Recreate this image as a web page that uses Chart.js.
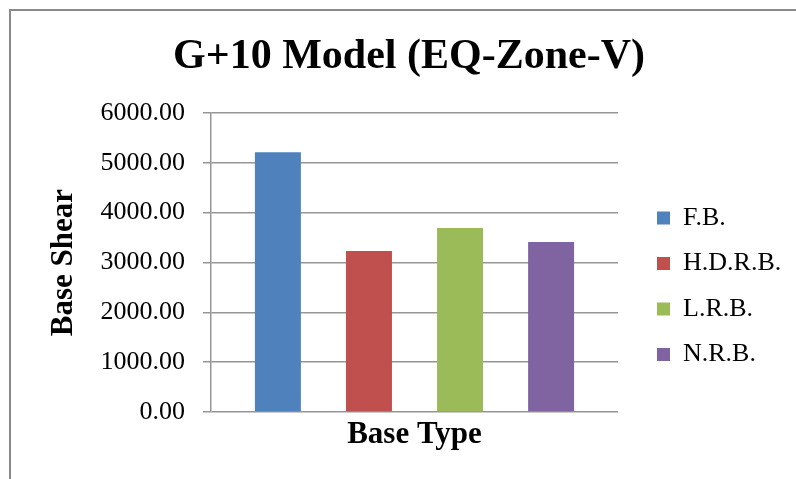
<!DOCTYPE html>
<html>
<head>
<meta charset="utf-8">
<script src="https://cdn.jsdelivr.net/npm/chart.js@4/dist/chart.umd.min.js"></script>
<style>
  html, body { margin: 0; padding: 0; background: #fff; }
  #wrap { width: 796px; height: 479px; position: relative; }
</style>
</head>
<body>
<div id="wrap"><canvas id="c" width="796" height="479"></canvas></div>
<script>
// ---- data ----
const categories = [''];
const seriesNames = ['F.B.', 'H.D.R.B.', 'L.R.B.', 'N.R.B.'];
const fbValues = [5214];
const hdrbValues = [3229];
const lrbValues = [3690];
const nrbValues = [3409];
const yTickMin = 0;
const yTickMax = 6000;
const yTickStep = 1000;
const chartTitle = 'G+10 Model (EQ-Zone-V)';
const xTitle = 'Base Type';
const yTitle = 'Base Shear';

const seriesColors = ['#4F81BD', '#C0504D', '#9BBB59', '#8064A2'];
const seriesValues = [fbValues, hdrbValues, lrbValues, nrbValues];

Chart.defaults.font.family = '"Liberation Serif", "Times New Roman", serif';
Chart.defaults.color = '#000';

const gridColor = '#969696';

const frame = {
  id: 'frame',
  beforeDraw(chart) {
    const ctx = chart.ctx;
    ctx.save();
    ctx.fillStyle = '#fff';
    ctx.fillRect(0, 0, chart.width, chart.height);
    ctx.strokeStyle = '#8a8a8a';
    ctx.lineWidth = 2;
    ctx.beginPath();
    ctx.moveTo(10, chart.height);
    ctx.lineTo(10, 10);
    ctx.lineTo(chart.width, 10);
    ctx.stroke();
    ctx.restore();
  }
};

const placeBlocks = {
  id: 'placeBlocks',
  afterLayout(chart) {
    const lg = chart.legend;
    if (lg) {
      lg.left = 637.5; lg.right = chart.width;
      lg.width = lg.right - lg.left;
      lg.top = 113; lg.bottom = 459.5;
      lg.height = lg.bottom - lg.top;
    }
    const tb = chart.titleBlock;
    if (tb) {
      const dx = 409 - (tb.left + tb.right) / 2;
      tb.left += dx; tb.right += dx;
    }
  }
};

new Chart(document.getElementById('c'), {
  type: 'bar',
  data: {
    labels: categories,
    datasets: seriesNames.map((n, i) => ({
      label: n,
      data: seriesValues[i],
      backgroundColor: seriesColors[i],
      borderWidth: 0,
      categoryPercentage: 0.895,
      barPercentage: 0.505
    }))
  },
  options: {
    responsive: false,
    animation: false,
    layout: { padding: { left: 0, right: 38, top: 0, bottom: 0 } },
    plugins: {
      tooltip: { enabled: false },
      title: {
        display: true,
        text: chartTitle,
        font: { size: 42, weight: 'bold' },
        color: '#000',
        padding: { top: 32, bottom: 30.6 }
      },
      legend: {
        position: 'right',
        align: 'center',
        maxWidth: 140,
        labels: {
          boxWidth: 13,
          boxHeight: 13,
          padding: 19.5,
          font: { size: 26 },
          color: '#000'
        }
      }
    },
    scales: {
      x: {
        grid: { display: false },
        border: { display: false },
        ticks: { display: false },
        title: {
          display: true,
          text: xTitle,
          font: { size: 31, weight: 'bold' },
          color: '#000',
          padding: { top: 0, bottom: 25 }
        },
        afterFit(s) { s.height = 67; }
      },
      y: {
        min: yTickMin,
        max: yTickMax,
        ticks: {
          stepSize: yTickStep,
          font: { size: 26 },
          color: '#000',
          padding: 18,
          callback: v => Number(v).toFixed(2)
        },
        grid: {
          color: gridColor,
          lineWidth: 1.5,
          tickLength: 8,
          tickColor: gridColor,
          drawTicks: true
        },
        border: { display: true, color: gridColor, width: 1.5 },
        title: {
          display: true,
          text: yTitle,
          font: { size: 31, weight: 'bold' },
          color: '#000',
          padding: { top: 45, bottom: 0 }
        },
        afterFit(s) { s.width = 211; }
      }
    }
  },
  plugins: [frame, placeBlocks]
});
</script>
</body>
</html>
